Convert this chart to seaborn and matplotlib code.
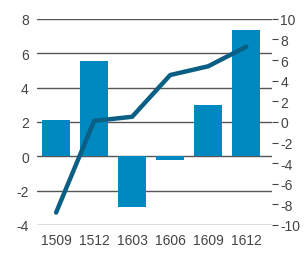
import pandas as pd
import seaborn as sns
import matplotlib.pyplot as plt

periods = ['1509', '1512', '1603', '1606', '1609', '1612']
bar_values = [2.1, 5.55, -2.97, -0.2, 3.0, 7.35]
line_values = [-8.8, 0.1, 0.5, 4.55, 5.4, 7.3]

df = pd.DataFrame({'period': periods, 'bar': bar_values, 'line': line_values})

sns.set_style('white')
plt.rcParams['font.family'] = ['Liberation Sans Narrow', 'Liberation Sans', 'DejaVu Sans']
plt.rcParams['axes.unicode_minus'] = False

fig = plt.figure(figsize=(3.04, 2.55), dpi=100)
ax = fig.add_axes([0.122, 0.114, 0.773, 0.808])

sns.barplot(x='period', y='bar', data=df, color='#0088c0', saturation=1,
            width=0.74, linewidth=0, ax=ax)
ax.set_ylim(-4, 8)
ax.set_yticks([-4, -2, 0, 2, 4, 6, 8])
ax.set_xlim(-0.5, 5.68)
ax.yaxis.grid(True, color='#555555', linewidth=1)
ax.set_axisbelow(True)
for s in ax.spines.values():
    s.set_visible(False)
ax.tick_params(axis='both', length=0, labelsize=10, colors='#444444', pad=6)
ax.set_xlabel('')
ax.set_ylabel('')

ax2 = ax.twinx()
sns.lineplot(x=range(len(periods)), y=line_values, color='#0b5f84', linewidth=3.2, ax=ax2)
ax2.set_ylim(-10, 10)
ax2.set_yticks(range(-10, 11, 2))
for s in ax2.spines.values():
    s.set_visible(False)
ax2.tick_params(axis='y', length=4, width=0.8, labelsize=10, colors='#444444', pad=2)
ax2.set_ylabel('')

fig.savefig('out.png', dpi=100)
